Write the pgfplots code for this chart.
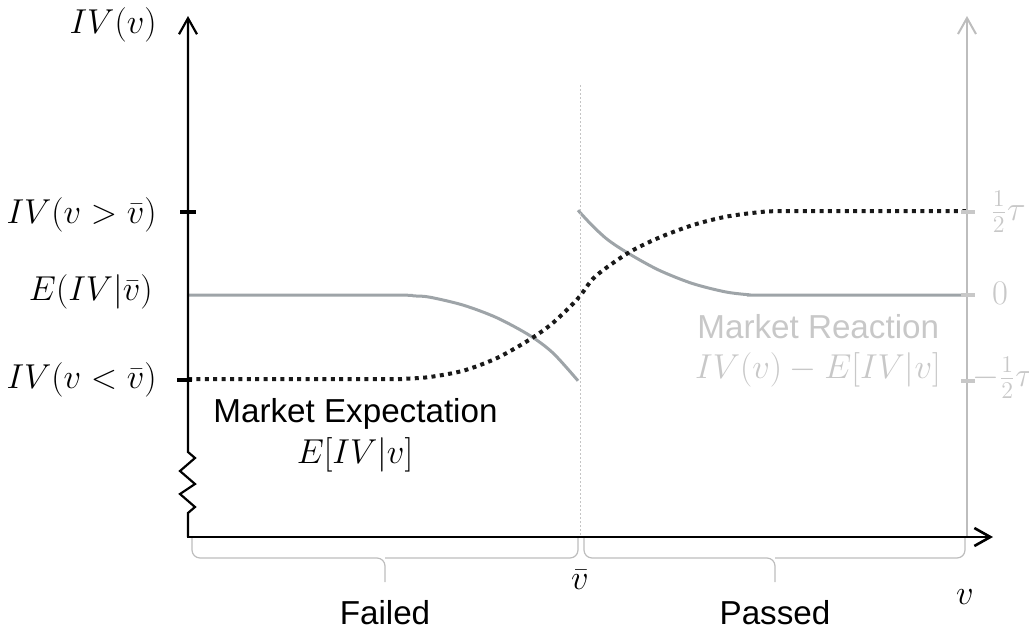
\documentclass[border=0pt]{standalone}
\usepackage{pgfplots}
\pgfplotsset{compat=1.18}
\usepackage{fontspec}
\setmainfont{Liberation Sans}
\usetikzlibrary{arrows.meta}

\definecolor{reactgray}{HTML}{9EA4A8}
\definecolor{axgray}{HTML}{BDBDBD}
\definecolor{lblgray}{HTML}{C8C8C8}
\definecolor{guidegray}{HTML}{C4C4C4}

% market reaction  IV(v) - E[IV|v]
\pgfplotstableread{
x y
0    0
2.6  0
2.9  -0.01
3.1  -0.025
3.53 -0.12
3.96 -0.27
4.38 -0.48
4.68 -0.69
5.0  -1.02
}\reactfail
\pgfplotstableread{
x y
5.0  1.01
5.18 0.83
5.38 0.66
5.64 0.50
6.03 0.30
6.46 0.14
6.88 0.04
7.18 0.005
7.4  0
10   0
}\reactpass
% market expectation  E[IV|v]
\pgfplotstableread{
x y
0    -1
2.5  -1
2.8  -0.995
3.1  -0.975
3.53 -0.90
3.96 -0.75
4.38 -0.53
4.68 -0.33
5.0  -0.04
5.22 0.22
5.64 0.50
6.03 0.68
6.46 0.83
6.88 0.93
7.31 0.985
7.7  1.0
10   1
}\expect

\newcommand{\mfont}{\fontsize{17.5}{20}\selectfont}
\newcommand{\tfont}{\fontsize{16.6}{19}\selectfont}

\begin{document}
\begin{tikzpicture}
\begin{axis}[
  anchor=south west, at={(94pt,-268.5pt)},
  x=39pt, y=42pt,
  xmin=0, xmax=10, ymin=-2.88, ymax=3.32,
  hide axis, clip=false]
\addplot[reactgray, line width=1.5pt, smooth, tension=0.5] table[x=x,y=y] {\reactfail};
\addplot[reactgray, line width=1.5pt, smooth, tension=0.5] table[x=x,y=y] {\reactpass};
\addplot[black!90, line width=2pt, line cap=butt, dash pattern=on 2pt off 2.2pt, smooth, tension=0.5] table[x=x,y=y] {\expect};
\end{axis}

% annotations, in a pixel grid (y grows downward)
\begin{scope}[x=0.5pt, y=-0.5pt]
  % threshold guide
  \draw[guidegray, line width=0.4pt, dash pattern=on 1pt off 1pt] (580,85) -- (580,537);
  % right axis (market reaction)
  \draw[axgray, line width=1pt, -{Straight Barb[length=8pt,width=9pt,line width=1pt]}] (967,537) -- (967,16);
  \draw[lblgray, line width=1.6pt] (961,212) -- (975,212);
  \draw[lblgray, line width=1.6pt] (961,295) -- (975,295);
  \draw[lblgray, line width=1.6pt] (961,381) -- (975,381);
  % left axis with break
  \draw[black, line width=1.1pt, line join=miter, -{Straight Barb[length=8pt,width=9pt,line width=1.1pt]}]
    (188,537) -- (188,513) -- (195,507) -- (180,494) -- (195,484) -- (180,471) -- (195,458) -- (188,452) -- (188,16);
  \draw[black, line width=2pt] (180,212) -- (196,212);
  \draw[black, line width=2pt] (177,380) -- (192,380);
  % horizontal axis
  \draw[black, line width=1.3pt, -{Straight Barb[length=8pt,width=9pt,line width=1.3pt]}] (187,537) -- (993,537);
  % braces
  \begin{scope}[axgray, line width=0.6pt, rounded corners=4pt]
    \draw (192,538) -- (192,558) -- (385,558) -- (385,582);
    \draw (578,538) -- (578,558) -- (385,558);
    \draw (584,538) -- (584,558) -- (775,558) -- (775,582);
    \draw (965,538) -- (965,558) -- (775,558);
  \end{scope}

  % left labels
  \node[anchor=east, inner sep=0pt, font=\mfont] at (157,25) {$IV(v)$};
  \node[anchor=east, inner sep=0pt, font=\mfont] at (157,215) {$IV(v > \bar{v})$};
  \node[anchor=east, inner sep=0pt, font=\mfont] at (153,292) {$E(IV|\bar{v})$};
  \node[anchor=east, inner sep=0pt, font=\mfont] at (157,380) {$IV(v < \bar{v})$};
  % right labels
  \node[lblgray, inner sep=0pt, font=\mfont] at (1008,212) {$\frac{1}{2}\tau$};
  \node[lblgray, inner sep=0pt, font=\mfont] at (1000,293) {$0$};
  \node[lblgray, inner sep=0pt, font=\mfont] at (1003,378) {$-\frac{1}{2}\tau$};
  % series labels
  \node[anchor=base west, inner sep=0pt, font=\tfont] at (213,422) {Market Expectation};
  \node[inner sep=0pt, font=\mfont] at (355,455) {$E[IV|v]$};
  \node[anchor=base west, inner sep=0pt, font=\tfont, lblgray] at (697,338) {Market Reaction};
  \node[inner sep=0pt, font=\mfont, lblgray] at (818,370) {$IV(v) - E[IV|v]$};
  % horizontal axis labels
  \node[inner sep=0pt, font=\mfont] at (580,580) {$\bar{v}$};
  \node[inner sep=0pt, font=\mfont] at (965,597) {$v$};
  \node[inner sep=0pt, font=\tfont] at (385,613) {Failed};
  \node[inner sep=0pt, font=\tfont] at (775,613) {Passed};

  \pgfresetboundingbox
  \useasboundingbox (0,0) rectangle (1029,633);
\end{scope}
\end{tikzpicture}
\end{document}
